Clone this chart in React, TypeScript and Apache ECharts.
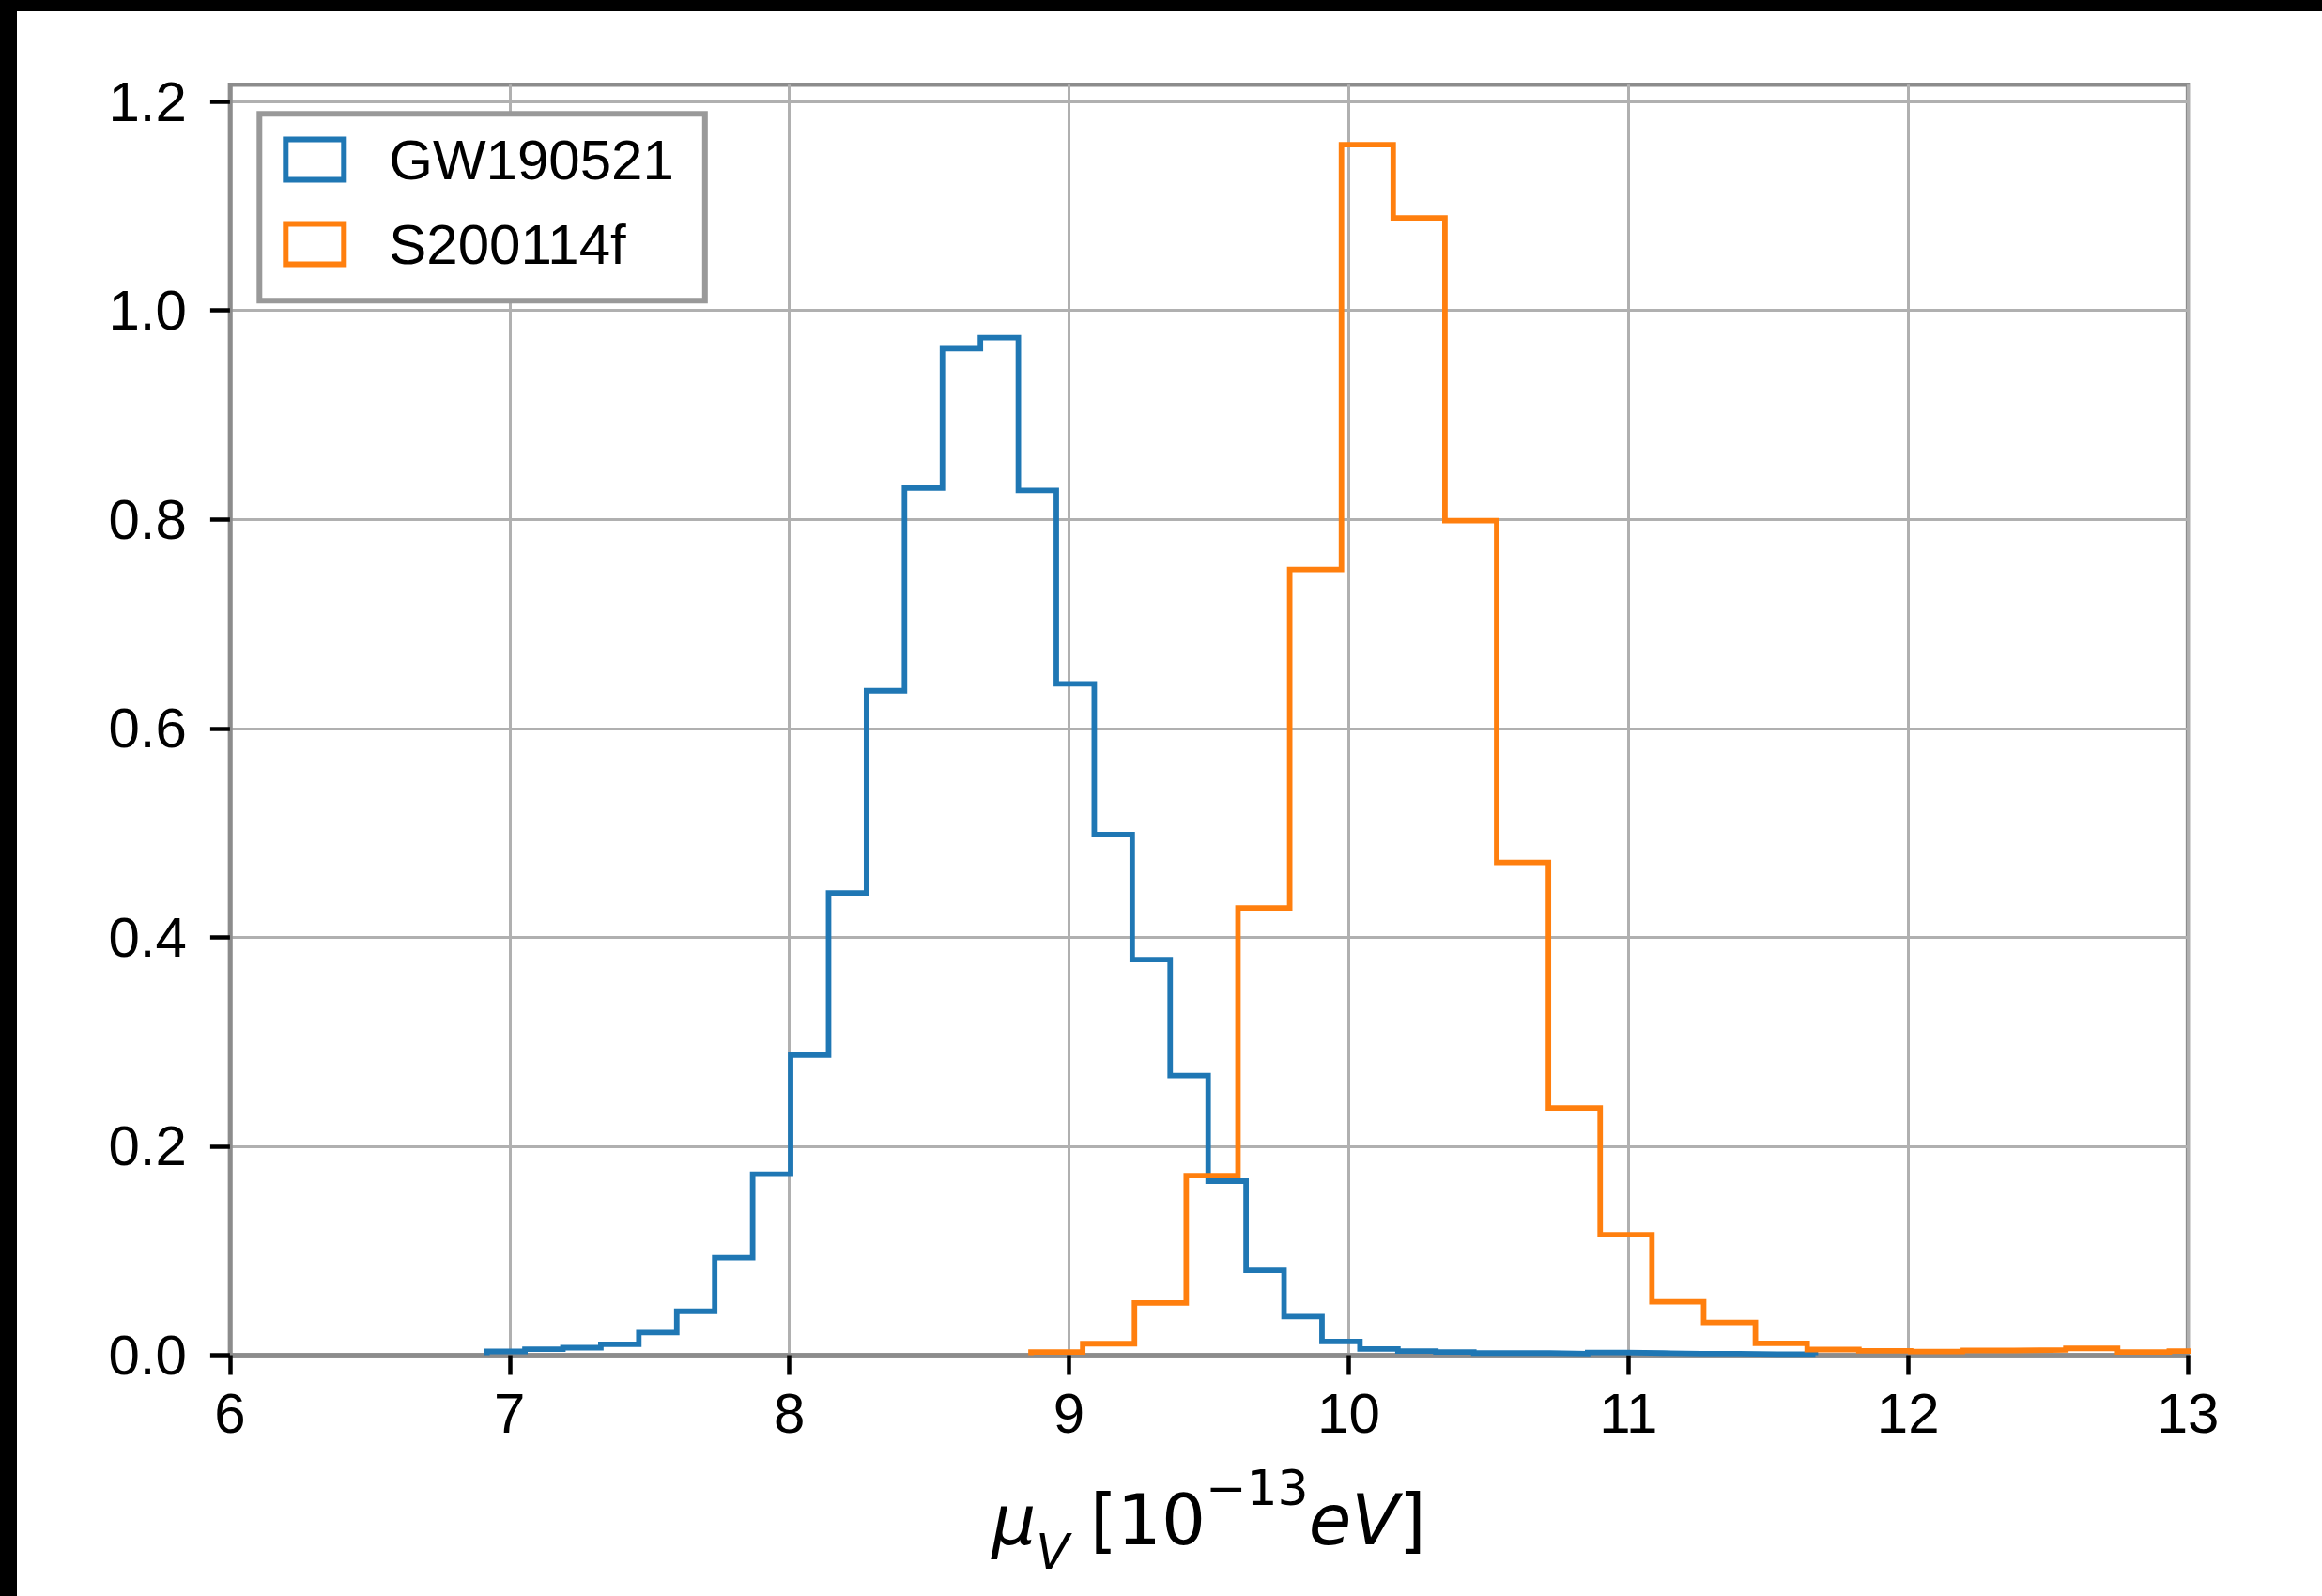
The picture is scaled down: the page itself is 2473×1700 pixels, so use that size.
import React, { useEffect, useRef } from "react";
import * as echarts from "echarts";

// ---- data ----
const xTicks = [6, 7, 8, 9, 10, 11, 12, 13];
const yTicks = [0, 0.2, 0.4, 0.6, 0.8, 1.0, 1.2];
const yMax = 1.216;
const seriesNames = ["GW190521", "S200114f"];
const seriesColors = ["#1f77b4", "#ff7f0e"];

// GW190521 histogram (density), bins start at blueStart with width blueWidth
const blueStart = 6.919;
const blueWidth = 0.1357;
const blueValues = [
  0.0036, 0.0057, 0.0072, 0.0105, 0.0216, 0.042, 0.0934, 0.1733, 0.2872, 0.4425,
  0.636, 0.83, 0.9634, 0.9739, 0.8277, 0.6427, 0.4983, 0.3787, 0.2676, 0.1667,
  0.0812, 0.0369, 0.0132, 0.006, 0.004, 0.003, 0.002, 0.002, 0.0015, 0.0025,
  0.002, 0.0015, 0.0015, 0.001, 0.001,
];

// S200114f histogram (density)
const orangeStart = 8.864;
const orangeWidth = 0.185;
const orangeValues = [
  0.003, 0.011, 0.05, 0.172, 0.428, 0.752, 1.1587, 1.0886, 0.7987, 0.4716,
  0.2367, 0.1154, 0.0511, 0.0314, 0.0114, 0.0054, 0.0042, 0.0034, 0.0045, 0.005,
  0.0065, 0.003, 0.004,
];

// outline of a step histogram (histtype="step")
function stepOutline(start: number, width: number, values: number[]) {
  const pts: number[][] = [[start, 0]];
  values.forEach((v, i) => {
    pts.push([start + i * width, v]);
    pts.push([start + (i + 1) * width, v]);
  });
  pts.push([start + values.length * width, 0]);
  return pts;
}

const TICK_FONT = "Liberation Sans";
const MATH_FONT = "DejaVu Sans";

export default function App() {
  const ref = useRef<HTMLDivElement | null>(null);

  useEffect(() => {
    document.body.style.margin = "0";
    if (!ref.current) return;
    const chart = echarts.init(ref.current, null, { renderer: "svg" });

    const histData = [
      stepOutline(blueStart, blueWidth, blueValues),
      stepOutline(orangeStart, orangeWidth, orangeValues),
    ];

    const spineColor = "#8c8c8c";
    const gridColor = "#b0b0b0";

    const option: any = {
      animation: false,
      backgroundColor: "#ffffff",
      grid: {
        left: 226.9,
        top: 78.3,
        width: 2085.2,
        height: 1353.2,
        show: true,
        borderColor: spineColor,
        borderWidth: 4.5,
        backgroundColor: "transparent",
        containLabel: false,
        outerBoundsMode: "none",
      },
      legend: {
        orient: "vertical",
        left: 258.3,
        top: 109.3,
        padding: [18.7, 33, 30.3, 25],
        itemWidth: 62,
        itemHeight: 43,
        itemGap: 30,
        icon: "rect",
        selectedMode: false,
        backgroundColor: "#ffffff",
        borderColor: "#999999",
        borderWidth: 6,
        borderRadius: 0,
        textStyle: {
          fontFamily: TICK_FONT,
          fontSize: 60,
          color: "#000",
          padding: [0, 0, 0, 43],
        },
        data: seriesNames.map((n, i) => ({
          name: n,
          icon: "rect",
          itemStyle: {
            color: "rgba(0,0,0,0)",
            borderColor: seriesColors[i],
            borderWidth: 6,
          },
        })),
      },
      xAxis: {
        type: "value",
        min: xTicks[0],
        max: xTicks[xTicks.length - 1],
        interval: 1,
        axisLine: { show: true, onZero: false, lineStyle: { color: spineColor, width: 4.5 } },
        axisTick: { show: true, length: 21, lineStyle: { color: "#000", width: 4.5 } },
        axisLabel: {
          margin: 32,
          fontSize: 60,
          fontFamily: TICK_FONT,
          color: "#000",
          formatter: (v: number) => String(v),
        },
        splitLine: { show: true, lineStyle: { color: gridColor, width: 3 } },
        name: "{mu|μ}{sub|V}{gap| }{n|[10}{sup|−13}{it|eV}{n|]}",
        nameLocation: "middle",
        nameGap: 115,
        nameMoveOverlap: false,
        nameTextStyle: {
          color: "#000",
          rich: {
            mu: { fontFamily: MATH_FONT, fontStyle: "italic", fontSize: 74, lineHeight: 120, verticalAlign: "middle", color: "#000" },
            sub: { fontFamily: MATH_FONT, fontStyle: "italic", fontSize: 52, lineHeight: 90, verticalAlign: "bottom", color: "#000" },
            gap: { fontFamily: MATH_FONT, fontSize: 52, width: 22, lineHeight: 120, verticalAlign: "middle" },
            n: { fontFamily: MATH_FONT, fontSize: 74, lineHeight: 120, verticalAlign: "middle", color: "#000" },
            sup: { fontFamily: MATH_FONT, fontSize: 52, lineHeight: 80, verticalAlign: "top", color: "#000" },
            it: { fontFamily: MATH_FONT, fontStyle: "italic", fontSize: 74, lineHeight: 120, verticalAlign: "middle", color: "#000" },
          },
        },
      },
      yAxis: {
        type: "value",
        min: 0,
        max: yMax,
        interval: 0.2,
        axisLine: { show: true, onZero: false, lineStyle: { color: spineColor, width: 4.5 } },
        axisTick: { show: true, length: 21, lineStyle: { color: "#000", width: 4.5 }, customValues: yTicks },
        axisLabel: {
          customValues: yTicks,
          margin: 46,
          fontSize: 60,
          fontFamily: TICK_FONT,
          color: "#000",
          formatter: (v: number) => v.toFixed(1),
        },
        splitLine: { show: true, lineStyle: { color: gridColor, width: 3 } },
      },
      series: seriesNames.map((n, i) => ({
        type: "line",
        name: n,
        data: histData[i],
        showSymbol: false,
        symbol: "none",
        clip: true,
        lineStyle: { color: seriesColors[i], width: 5.8, join: "miter", cap: "butt" },
        itemStyle: { color: seriesColors[i] },
        emphasis: { disabled: true },
        z: 3,
      })),
    };

    chart.setOption(option);
    return () => {
      chart.dispose();
    };
  }, []);

  return (
    <div style={{ position: "relative", width: 2473, height: 1700, background: "#000", overflow: "hidden" }}>
      <div
        ref={ref}
        style={{ position: "absolute", left: 18, top: 12, width: 2455, height: 1688, background: "#fff" }}
      />
    </div>
  );
}
